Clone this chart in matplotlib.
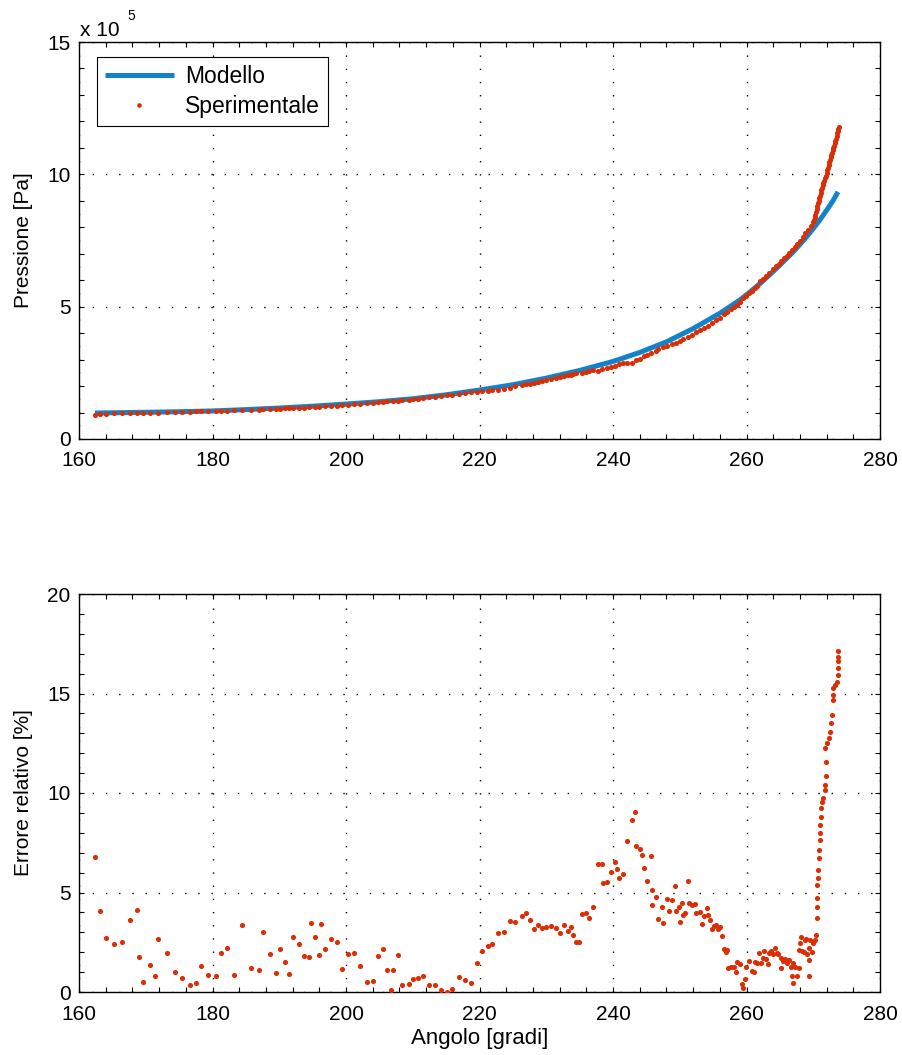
import numpy as np
import matplotlib
matplotlib.use("Agg")
import matplotlib.pyplot as plt
from matplotlib.ticker import MultipleLocator

plt.rcParams['font.family'] = ['Liberation Sans', 'DejaVu Sans']

# modello (pressione in 1e5 Pa)
angolo_mod = [162.4, 165, 170, 175, 180, 185, 190, 195, 200, 205, 210, 215, 220,
              225, 230, 235, 240, 244, 248, 252, 256, 257.5, 259, 260.5, 262, 263.5,
              265, 266, 267, 268, 269, 270, 271, 272, 273, 273.7]
p_mod = [0.98, 0.99, 1.01, 1.03, 1.06, 1.11, 1.17, 1.24, 1.32, 1.41, 1.52, 1.67, 1.85,
         2.05, 2.30, 2.59, 2.93, 3.27, 3.67, 4.17, 4.75, 5.00, 5.25, 5.55, 5.87, 6.21,
         6.57, 6.82, 7.07, 7.35, 7.64, 7.95, 8.28, 8.64, 9.02, 9.34]

# dati sperimentali (pressione in 1e5 Pa)
angolo_sper = [162.4, 163.2, 164.0, 165.2, 166.4, 167.6, 168.7, 169.6, 170.7, 171.9,
               173.2, 174.4, 175.5, 176.6, 177.6, 178.3, 179.4, 180.5, 181.2, 182.2,
               183.2, 184.4, 185.8, 187.0, 187.5, 188.6, 189.5, 190.1, 190.8, 191.5,
               192.1, 192.9, 193.7, 194.4, 195.4, 196.0, 196.9, 197.8, 198.7, 199.4,
               200.3, 201.2, 202.1, 203.1, 204.0, 204.8, 205.5, 206.2, 207.1, 207.8,
               208.4, 209.4, 210.1, 210.8, 211.6, 212.4, 213.3, 214.2, 215.2, 215.9,
               216.9, 217.8, 218.7, 219.7, 220.3, 221.2, 221.9, 222.8, 223.6, 224.6,
               225.3, 226.4, 227.0, 227.5, 228.1, 228.7, 229.3, 230.0, 230.7, 231.5,
               232.1, 232.7, 233.2, 233.7, 234.0, 234.5, 235.4, 236.0, 236.4, 237.0,
               237.7, 238.4, 239.1, 239.7, 240.3, 240.9, 241.5, 242.1, 242.8, 243.4,
               244.0, 244.7, 245.1, 245.7, 246.4, 246.8, 247.5, 248.1, 248.8, 249.4,
               250.0, 250.5, 251.3, 251.8, 252.5, 253.0, 253.6, 254.3, 254.9, 255.5,
               256.1, 256.7, 257.1, 257.7, 258.2, 258.6, 259.0, 259.5, 259.9, 260.3,
               260.8, 261.2, 261.6, 262.0, 262.4, 262.9, 263.4, 263.9, 264.4, 264.8,
               265.2, 265.6, 266.0, 266.4, 266.8, 267.2, 267.6, 268.0, 268.4, 268.8,
               269.2, 269.6, 270.0, 270.1, 270.2, 270.3, 270.4, 270.5, 270.6, 270.7,
               270.8, 270.9, 271.0, 271.1, 271.2, 271.3, 271.4, 271.45, 271.55, 271.7,
               271.85, 272.0, 272.1, 272.2, 272.3, 272.4, 272.5, 272.6, 272.7, 272.8,
               272.9, 273.0, 273.1, 273.2, 273.3, 273.4, 273.5, 273.6, 273.7, 273.75,
               273.8]
p_sper = [0.92, 0.95, 0.96, 0.97, 0.97, 0.98, 0.98, 0.99, 1.00, 1.00,
          1.01, 1.02, 1.02, 1.03, 1.04, 1.04, 1.05, 1.06, 1.06, 1.07,
          1.08, 1.09, 1.10, 1.11, 1.12, 1.13, 1.14, 1.15, 1.16, 1.17,
          1.17, 1.18, 1.19, 1.20, 1.21, 1.22, 1.23, 1.25, 1.26, 1.28,
          1.30, 1.31, 1.33, 1.35, 1.37, 1.39, 1.40, 1.42, 1.43, 1.45,
          1.46, 1.49, 1.51, 1.53, 1.55, 1.57, 1.60, 1.62, 1.65, 1.67,
          1.70, 1.73, 1.76, 1.78, 1.80, 1.83, 1.85, 1.87, 1.90, 1.93,
          1.99, 2.03, 2.06, 2.09, 2.13, 2.16, 2.19, 2.23, 2.26, 2.31,
          2.34, 2.37, 2.40, 2.43, 2.46, 2.49, 2.51, 2.54, 2.57, 2.60,
          2.58, 2.63, 2.69, 2.73, 2.76, 2.82, 2.86, 2.86, 2.89, 2.97,
          3.04, 3.13, 3.18, 3.24, 3.34, 3.40, 3.47, 3.51, 3.58, 3.64,
          3.72, 3.79, 3.87, 3.93, 4.03, 4.10, 4.18, 4.28, 4.39, 4.48,
          4.58, 4.72, 4.79, 4.92, 5.00, 5.08, 5.19, 5.31, 5.42, 5.52,
          5.60, 5.70, 5.79, 5.96, 6.05, 6.17, 6.29, 6.41, 6.53, 6.63,
          6.72, 6.83, 6.93, 7.03, 7.13, 7.24, 7.37, 7.50, 7.63, 7.77,
          7.91, 8.05, 8.20, 8.28, 8.37, 8.46, 8.57, 8.68, 8.80, 8.90,
          9.00, 9.10, 9.20, 9.30, 9.40, 9.50, 9.58, 9.68, 9.76, 9.85,
          9.95, 10.05, 10.15, 10.25, 10.35, 10.45, 10.55, 10.65, 10.72, 10.82,
          10.92, 11.00, 11.08, 11.17, 11.25, 11.35, 11.45, 11.55, 11.65, 11.72,
          11.78]

# errore relativo [%]
angolo_err = [162.4, 163.2, 164.0, 165.2, 166.4, 167.6, 168.7, 169.0, 169.6, 170.7,
              171.4, 171.9, 173.2, 174.4, 175.5, 176.6, 177.6, 178.3, 179.4, 180.5,
              181.2, 182.2, 183.2, 184.4, 185.8, 187.0, 187.5, 188.6, 189.5, 190.1,
              190.8, 191.5, 192.1, 192.9, 193.7, 194.4, 194.7, 195.4, 196.0, 196.3,
              196.9, 197.8, 198.7, 199.4, 200.3, 201.2, 202.1, 203.1, 204.0, 204.8,
              205.5, 206.2, 206.7, 207.1, 207.8, 208.4, 209.4, 210.1, 210.8, 211.6,
              212.4, 213.3, 214.2, 215.2, 215.9, 216.9, 217.8, 218.7, 219.7, 220.3,
              221.2, 221.9, 222.8, 223.6, 224.6, 225.3, 226.4, 227.0, 227.5, 228.1,
              228.7, 229.3, 230.0, 230.7, 231.5, 232.1, 232.7, 233.2, 233.7, 234.0,
              234.5, 234.9, 235.4, 236.0, 236.4, 237.0, 237.7, 238.4, 238.5, 239.1,
              239.7, 240.3, 240.6, 240.9, 241.5, 242.1, 242.8, 243.3, 243.4, 244.0,
              244.3, 244.7, 245.1, 245.7, 245.8, 245.9, 246.4, 246.8, 247.3, 247.5,
              248.1, 248.4, 248.8, 249.3, 249.4, 249.9, 250.0, 250.3, 250.5, 250.8,
              251.3, 251.4, 251.8, 252.3, 252.5, 253.0, 253.3, 253.6, 254.1, 254.3,
              254.6, 254.9, 255.2, 255.5, 255.7, 256.1, 256.4, 256.7, 256.9, 257.1,
              257.3, 257.7, 258.2, 258.4, 258.6, 259.0, 259.3, 259.5, 259.8, 259.9,
              260.3, 260.8, 261.1, 261.2, 261.6, 261.9, 262.2, 262.4, 262.6, 262.9,
              263.2, 263.4, 263.6, 263.9, 264.2, 264.5, 264.7, 265.1, 265.2, 265.4,
              265.7, 266.0, 266.3, 266.7, 266.8, 266.9, 267.0, 267.3, 267.5, 267.8,
              267.9, 268.0, 268.1, 268.3, 268.6, 268.8, 268.9, 269.0, 269.3, 269.4,
              269.35, 269.5, 269.8, 270.0, 270.3, 270.4, 270.5, 270.5, 270.6, 270.6,
              270.7, 270.7, 270.8, 270.9, 271.0, 271.0, 271.0, 271.1, 271.2, 271.3,
              271.5, 271.7, 271.8, 271.9, 271.9, 271.8, 272.0, 272.3, 272.5, 272.6,
              272.8, 272.9, 272.9, 273.0, 273.3, 273.5, 273.7, 273.7, 273.7, 273.7,
              273.7]
errore = [6.80, 4.05, 2.70, 2.43, 2.50, 3.63, 4.10, 1.76, 0.52, 1.34,
          0.79, 2.66, 1.98, 1.02, 0.69, 0.37, 0.45, 1.31, 0.84, 0.82,
          1.96, 2.21, 0.85, 3.37, 1.19, 1.12, 3.03, 1.93, 0.97, 2.14,
          1.49, 0.92, 2.75, 2.43, 1.82, 1.76, 3.47, 2.75, 1.86, 3.40,
          2.18, 2.65, 2.50, 1.14, 1.91, 1.96, 1.32, 0.50, 0.55, 1.81,
          2.14, 1.12, 0.08, 1.11, 1.88, 0.34, 0.42, 0.65, 0.70, 0.79,
          0.37, 0.34, 0.10, 0.02, 0.13, 0.75, 0.59, 0.47, 1.46, 2.08,
          2.31, 2.43, 2.98, 3.00, 3.57, 3.52, 3.80, 3.95, 3.62, 3.17,
          3.37, 3.20, 3.25, 3.32, 3.20, 2.96, 3.35, 3.08, 3.25, 2.85,
          2.51, 2.50, 3.90, 3.95, 3.73, 4.26, 6.43, 6.43, 5.49, 5.53,
          6.03, 6.53, 6.17, 5.74, 5.91, 7.59, 8.64, 9.03, 7.35, 7.20,
          6.87, 6.25, 5.59, 6.83, 5.13, 4.37, 4.76, 3.65, 4.27, 3.45,
          4.66, 4.07, 4.61, 5.31, 4.09, 4.29, 3.52, 4.49, 3.85, 3.95,
          5.56, 4.49, 4.36, 4.44, 3.98, 4.01, 3.40, 3.83, 4.22, 3.88,
          3.62, 3.15, 3.32, 3.37, 3.15, 3.28, 2.81, 2.14, 2.03, 2.11,
          1.22, 1.27, 1.27, 0.99, 1.49, 1.39, 0.40, 0.19, 0.65, 1.26,
          1.54, 1.07, 1.02, 1.51, 1.44, 1.94, 1.47, 1.69, 2.06, 1.64,
          1.39, 1.94, 2.08, 1.91, 2.19, 1.94, 1.89, 1.69, 1.19, 1.57,
          1.67, 1.44, 1.61, 1.27, 0.80, 1.44, 0.44, 1.27, 0.80, 1.19,
          2.11, 2.45, 2.78, 2.08, 1.99, 2.61, 2.65, 1.93, 1.61, 0.80,
          2.19, 2.61, 2.03, 2.48, 2.61, 2.86, 3.70, 4.29, 4.71, 5.38,
          5.71, 6.13, 6.72, 7.14, 7.64, 7.97, 8.39, 8.81, 9.23, 9.56,
          9.73, 10.15, 10.40, 10.87, 11.57, 12.25, 12.50, 12.75, 13.08, 13.50,
          13.92, 14.67, 14.92, 15.26, 15.43, 15.59, 15.93, 16.26, 16.63, 16.85,
          17.15]

BLU = '#1283c8'
ROSSO = '#dc2e05'
FS = 15

fig = plt.figure(figsize=(9.03, 10.55), dpi=100)
W, H = 903, 1055
ax1 = fig.add_axes([79 / W, 1 - 439 / H, 801 / W, 397 / H])
ax2 = fig.add_axes([79 / W, 1 - 992 / H, 801 / W, 398 / H])

ax1.plot(angolo_mod, p_mod, color=BLU, lw=3.6, solid_capstyle='butt', label='Modello', zorder=2)
ax1.plot(angolo_sper, p_sper, ls='none', marker='o', ms=3.7, mew=0, color=ROSSO,
         label='Sperimentale', zorder=3)
ax2.plot(angolo_err, errore, ls='none', marker='o', ms=3.7, mew=0, color=ROSSO, zorder=3)

for ax, ymax in ((ax1, 15), (ax2, 20)):
    ax.set_xlim(160, 280)
    ax.set_ylim(0, ymax)
    ax.xaxis.set_major_locator(MultipleLocator(20))
    ax.xaxis.set_minor_locator(MultipleLocator(4))
    ax.yaxis.set_major_locator(MultipleLocator(5))
    ax.yaxis.set_minor_locator(MultipleLocator(1))
    ax.tick_params(which='both', direction='in', top=True, right=True,
                   length=3.5, width=0.8, labelsize=FS)
    ax.tick_params(axis='x', which='both', pad=9)
    ax.tick_params(axis='y', which='both', pad=6)
    ax.grid(True, which='major', color='k', linestyle=(0, (1, 8.5)), linewidth=1.0)
    for s in ax.spines.values():
        s.set_linewidth(1.0)

ax1.set_ylabel('Pressione [Pa]', fontsize=FS)
ax2.set_ylabel('Errore relativo [%]', fontsize=FS)
ax2.set_xlabel('Angolo [gradi]', fontsize=16, labelpad=3)
ax1.yaxis.set_label_coords(-0.058, 0.5)
ax2.yaxis.set_label_coords(-0.058, 0.5)

# moltiplicatore asse y
fig.text(80 / W, 1 - 36 / H, 'x 10', fontsize=FS, ha='left', va='baseline')
fig.text(127 / W, 1 - 20 / H, '5', fontsize=10, ha='left', va='baseline')

leg = ax1.legend(loc='upper left', bbox_to_anchor=(18 / 801, 1 - 15 / 397),
                 borderaxespad=0, fontsize=16.5, handlelength=3.0, handletextpad=0.5,
                 labelspacing=0.3, borderpad=0.35, fancybox=False, framealpha=1,
                 edgecolor='k', markerscale=0.9)
leg.get_frame().set_linewidth(0.8)

fig.savefig('out.png', dpi=100)
